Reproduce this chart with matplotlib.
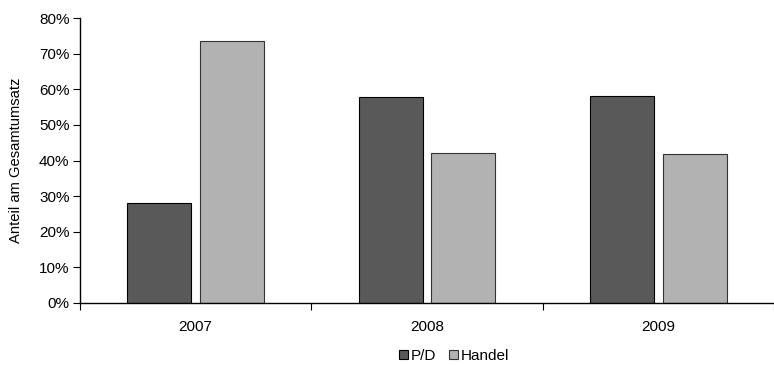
import matplotlib
matplotlib.use("Agg")
import matplotlib.pyplot as plt
import numpy as np
from matplotlib.ticker import PercentFormatter, FixedLocator, NullFormatter

plt.rcParams['font.family'] = ['Liberation Sans', 'DejaVu Sans']

years = ["2007", "2008", "2009"]
pd_share = [28.0, 57.9, 58.2]
handel_share = [73.5, 42.2, 41.8]
series_names = ["P/D", "Handel"]

fig = plt.figure(figsize=(7.74, 3.65), dpi=100)
ax = fig.add_axes([80/774, 1-303/365, 694/774, (303-18)/365])

x = np.arange(len(years))
w = 0.276
off = 0.157
ax.bar(x - off, pd_share, w, color="#595959", edgecolor="black", linewidth=0.8, label=series_names[0])
ax.bar(x + off, handel_share, w, color="#b2b2b2", edgecolor="#333333", linewidth=0.8, label=series_names[1])

ax.set_xlim(-0.5, len(years) - 0.5)
ax.set_ylim(0, 80)
ax.set_yticks(np.arange(0, 81, 10))
ax.yaxis.set_major_formatter(PercentFormatter(decimals=0))
ax.set_xticks(x)
ax.set_xticklabels(years)
ax.tick_params(axis='x', which='major', length=0, pad=12)
ax.xaxis.set_minor_locator(FixedLocator(np.arange(-0.5, len(years), 1.0)))
ax.xaxis.set_minor_formatter(NullFormatter())
ax.tick_params(axis='x', which='minor', length=5, width=0.8, direction='out')
ax.tick_params(axis='y', length=5, width=0.8, direction='out', pad=2.5)
ax.tick_params(labelsize=11)
for s in ['top', 'right']:
    ax.spines[s].set_visible(False)
for s in ['left', 'bottom']:
    ax.spines[s].set_linewidth(1.0)
ax.set_ylabel("Anteil am Gesamtumsatz", fontsize=10.6)
ax.yaxis.set_label_coords((23 - 80) / 694, 0.5)

fig.legend(loc='center', bbox_to_anchor=(454/774, 1-356/365), ncol=2, frameon=False,
           fontsize=11, handlelength=0.6, handleheight=0.6, handletextpad=0.2,
           columnspacing=0.8)

fig.savefig("out.png", dpi=100)
